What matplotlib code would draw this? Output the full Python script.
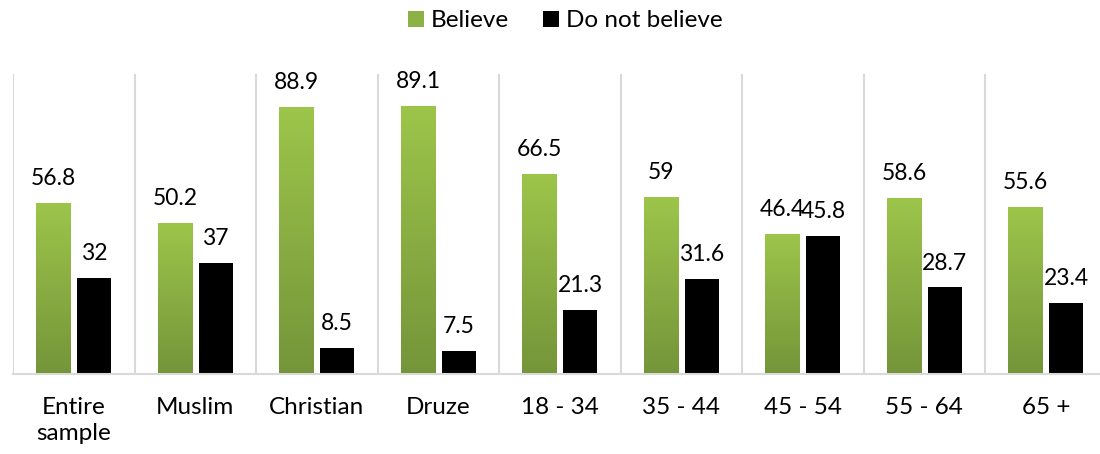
import numpy as np
import matplotlib
matplotlib.use("Agg")
import matplotlib.pyplot as plt
from matplotlib.colors import LinearSegmentedColormap
from matplotlib.patches import Patch

plt.rcParams['font.family'] = ['Lato', 'DejaVu Sans']

# data
categories = ['Entire\nsample', 'Muslim', 'Christian', 'Druze', '18 - 34',
              '35 - 44', '45 - 54', '55 - 64', '65 +']
believe = [56.8, 50.2, 88.9, 89.1, 66.5, 59, 46.4, 58.6, 55.6]
not_believe = [32, 37, 8.5, 7.5, 21.3, 31.6, 45.8, 28.7, 23.4]
believe_labels = ['56.8', '50.2', '88.9', '89.1', '66.5', '59', '46.4', '58.6', '55.6']
not_believe_labels = ['32', '37', '8.5', '7.5', '21.3', '31.6', '45.8', '28.7', '23.4']

green_top = '#9dc54a'
green_bot = '#75953a'

fig = plt.figure(figsize=(11, 4.54), dpi=100)
ax = fig.add_axes([13 / 1100, 80.5 / 454, 1093.5 / 1100, 300 / 454])

x = np.arange(len(categories))
w = 0.28
off = 0.167

bars_g = ax.bar(x - off, believe, w, color=green_top, zorder=2)
bars_k = ax.bar(x + off, not_believe, w, color='black', zorder=2)

# vertical gradient on the green bars
cmap = LinearSegmentedColormap.from_list('g', [green_bot, green_top])
grad = np.linspace(0, 1, 256).reshape(-1, 1)
for b in bars_g:
    bx, by = b.get_x(), b.get_y()
    im = ax.imshow(grad, cmap=cmap, origin='lower', aspect='auto',
                   extent=[bx, bx + b.get_width(), by, by + b.get_height()],
                   zorder=3)
    im.set_clip_path(b)

for b, lab in zip(bars_g, believe_labels):
    ax.annotate(lab, (b.get_x() + b.get_width() / 2, b.get_height()),
                xytext=(0, 10), textcoords='offset points',
                ha='center', va='bottom', fontsize=16.5)
for b, lab in zip(bars_k, not_believe_labels):
    ax.annotate(lab, (b.get_x() + b.get_width() / 2, b.get_height()),
                xytext=(0, 10), textcoords='offset points',
                ha='center', va='bottom', fontsize=16.5)

ax.set_xlim(-0.5, len(categories) - 0.5)
ax.set_ylim(0, 100)

# category separators
for sep in np.arange(len(categories)) - 0.5:
    ax.axvline(sep, color='#d9d9d9', lw=1.5, zorder=1)

for s in ['top', 'right', 'left']:
    ax.spines[s].set_visible(False)
ax.spines['bottom'].set_color('#d9d9d9')
ax.spines['bottom'].set_linewidth(1.5)

ax.set_yticks([])
ax.set_xticks(x)
ax.set_xticklabels(categories, fontsize=17.5, linespacing=1.3)
ax.tick_params(axis='x', length=0, pad=17)

handles = [Patch(facecolor='#8cb243', label='Believe'),
           Patch(facecolor='black', label='Do not believe')]
fig.legend(handles=handles, loc='center', bbox_to_anchor=(0.514, 0.954),
           ncol=2, frameon=False, fontsize=17.5, handlelength=0.65,
           handleheight=0.65, handletextpad=0.3, columnspacing=1.4)

fig.savefig('out.png', dpi=100)
